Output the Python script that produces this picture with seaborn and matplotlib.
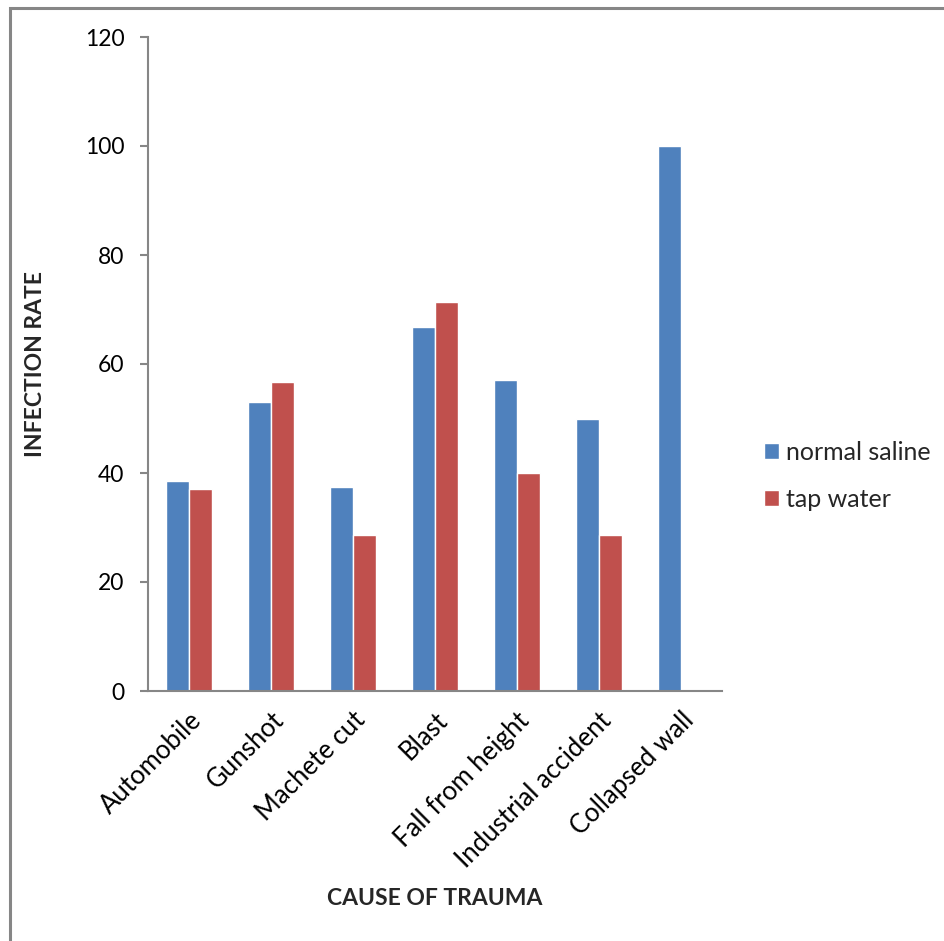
import matplotlib
matplotlib.use("Agg")
import matplotlib.pyplot as plt
from matplotlib.patches import Rectangle
import seaborn as sns
import pandas as pd

categories = ["Automobile", "Gunshot", "Machete cut", "Blast",
              "Fall from height", "Industrial accident", "Collapsed wall"]
normal_saline = [38.5, 53.1, 37.5, 66.7, 57.1, 50.0, 100.0]
tap_water = [37.0, 56.7, 28.6, 71.4, 40.0, 28.6, 0.0]
series_names = ["normal saline", "tap water"]
y_ticks = [0, 20, 40, 60, 80, 100, 120]

df = pd.DataFrame({
    "cause": categories * 2,
    "rate": normal_saline + tap_water,
    "group": [series_names[0]] * len(categories) + [series_names[1]] * len(categories),
})

sns.set_theme(style="white")
plt.rcParams["font.family"] = ["Lato", "DejaVu Sans"]

fig = plt.figure(figsize=(9.44, 9.41), dpi=100)
ax = fig.add_axes([148 / 944, 1 - 691 / 941, (722 - 148) / 944, (691 - 37) / 941])

palette = {"normal saline": "#4F81BD", "tap water": "#C0504D"}
sns.barplot(data=df, x="cause", y="rate", hue="group", palette=palette,
            width=0.57, saturation=1, ax=ax, legend=True)

ax.set_ylim(0, 120)
ax.set_yticks(y_ticks)
ax.set_yticklabels([str(t) for t in y_ticks], fontsize=16.5, color="black")
ax.set_xticks(range(len(categories)))
ax.set_xticklabels(categories, rotation=45, ha="right", rotation_mode="anchor",
                   fontsize=18.5, color="black")
ax.tick_params(axis="y", which="both", left=True, length=6, width=1.5,
               color="#868686", pad=11)
ax.tick_params(axis="x", bottom=False, pad=6)

for side in ["top", "right"]:
    ax.spines[side].set_visible(False)
for side in ["left", "bottom"]:
    ax.spines[side].set_color("#868686")
    ax.spines[side].set_linewidth(1.5)

ax.set_xlabel("CAUSE OF TRAUMA", fontsize=16.5, fontweight="bold")
ax.set_ylabel("INFECTION RATE", fontsize=16.5, fontweight="bold")
ax.xaxis.set_label_coords(0.5, -(888 - 691) / 654)
ax.yaxis.set_label_coords(-(148 - 46) / 574, 0.5)

leg = ax.legend(loc="center left", bbox_to_anchor=(764 / 944, 1 - 476 / 941),
                bbox_transform=fig.transFigure, frameon=False, fontsize=18,
                borderaxespad=0, borderpad=0,
                handlelength=0.6, handleheight=0.6, handletextpad=0.3,
                labelspacing=0.95)

# Outer chart border
fig.patches.append(Rectangle((9.5 / 944, -0.05), 1.2, 1 - 7.5 / 941 + 0.05,
                             transform=fig.transFigure, fill=False,
                             edgecolor="#868686", linewidth=2.2))

fig.savefig("out.png", dpi=100)
